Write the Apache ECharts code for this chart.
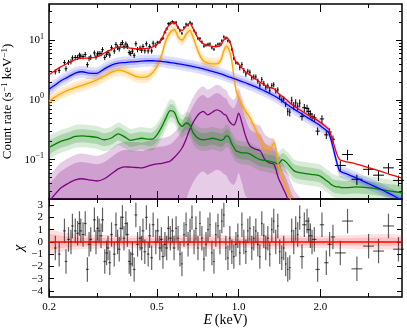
<!DOCTYPE html>
<html>
<head>
<meta charset="utf-8">
<script src="https://cdn.jsdelivr.net/npm/echarts@6.0.0/dist/echarts.min.js"></script>
<style>
html, body { margin: 0; padding: 0; background: #fff; }
#main { width: 407px; height: 335px; }
</style>
</head>
<body>
<div id="main"></div>
<script>
// ---- model curves (keV, counts s^-1 keV^-1)
var modelE = [0.2, 0.21, 0.22, 0.235, 0.25, 0.265, 0.28, 0.3, 0.32, 0.34,
    0.36, 0.38, 0.4, 0.42, 0.44, 0.46, 0.48, 0.5, 0.52, 0.54,
    0.56, 0.58, 0.6, 0.62, 0.64, 0.66, 0.68, 0.7, 0.72, 0.74,
    0.77, 0.8, 0.83, 0.86, 0.88, 0.9, 0.92, 0.94, 0.96, 0.98,
    1.0, 1.03, 1.06, 1.1, 1.15, 1.2, 1.25, 1.3, 1.35, 1.4,
    1.45, 1.5, 1.6, 1.7, 1.8, 1.9, 2.0, 2.1, 2.15, 2.2,
    2.3, 2.35, 2.4, 2.5, 2.7, 3.0, 3.3, 3.6, 4.0];
var totalModel = [2.63, 3.06, 3.53, 4.11, 4.69, 5.0, 4.99, 5.21, 6.06, 6.99,
    7.59, 7.52, 7.29, 7.09, 7.13, 7.25, 7.6, 8.4, 10.3, 14.9,
    18.5, 19.9, 15.6, 14.5, 17.0, 19.0, 15.4, 11.8, 9.7, 8.7,
    8.03, 7.85, 7.75, 8.17, 9.92, 11.12, 10.12, 7.94, 5.31, 4.19,
    3.96, 3.35, 2.96, 2.6, 2.25, 1.98, 1.75, 1.61, 1.53, 1.28,
    1.14, 1.0, 0.79, 0.66, 0.56, 0.49, 0.42, 0.355, 0.32, 0.24,
    0.125, 0.101, 0.096, 0.092, 0.085, 0.074, 0.065, 0.057, 0.049];
var blueModel = [1.5, 1.75, 2.05, 2.4, 2.8, 2.95, 2.8, 2.78, 3.3, 3.8,
    4.1, 4.2, 4.3, 4.35, 4.45, 4.5, 4.5, 4.45, 4.4, 4.3,
    4.2, 4.1, 4.0, 3.9, 3.8, 3.7, 3.6, 3.5, 3.4, 3.3,
    3.15, 3.0, 2.85, 2.72, 2.62, 2.52, 2.43, 2.35, 2.27, 2.2,
    2.12, 2.02, 1.93, 1.8, 1.66, 1.52, 1.4, 1.28, 1.17, 1.06,
    0.95, 0.85, 0.7, 0.59, 0.5, 0.43, 0.37, 0.31, 0.28, 0.2,
    0.09, 0.066, 0.062, 0.058, 0.05, 0.04, 0.033, 0.027, 0.021];
var orangeModel = [0.95, 1.1, 1.25, 1.45, 1.6, 1.75, 1.9, 2.15, 2.5, 2.9,
    3.15, 3.0, 2.7, 2.45, 2.38, 2.45, 2.8, 3.6, 5.5, 10,
    13.5, 15, 11, 10, 12.5, 14.5, 11, 7.5, 5.5, 4.5,
    4.1, 4.0, 4.0, 4.6, 6.5, 7.8, 7.0, 5.0, 2.5, 1.4,
    1.1, 0.8, 0.65, 0.5, 0.33, 0.22, 0.15, 0.15, 0.19, 0.08,
    0.05, 0.033, 0.015, 0.007];
var greenModel = [0.16, 0.18, 0.2, 0.22, 0.245, 0.25, 0.245, 0.235, 0.215, 0.23,
    0.27, 0.24, 0.21, 0.22, 0.228, 0.22, 0.22, 0.26, 0.35, 0.5,
    0.66, 0.62, 0.42, 0.36, 0.41, 0.38, 0.28, 0.24, 0.22, 0.215,
    0.22, 0.228, 0.22, 0.21, 0.22, 0.25, 0.24, 0.19, 0.16, 0.14,
    0.135, 0.13, 0.13, 0.125, 0.11, 0.1, 0.097, 0.094, 0.09, 0.085,
    0.1, 0.09, 0.065, 0.06, 0.058, 0.056, 0.053, 0.045, 0.042, 0.038,
    0.035, 0.035, 0.034, 0.034, 0.035, 0.034, 0.032, 0.03, 0.028];
var purpleModel = [0.02, 0.026, 0.033, 0.04, 0.046, 0.048, 0.046, 0.044, 0.048, 0.058,
    0.07, 0.076, 0.075, 0.074, 0.073, 0.077, 0.082, 0.085, 0.087, 0.09,
    0.095, 0.11, 0.13, 0.16, 0.22, 0.32, 0.42, 0.52, 0.6, 0.64,
    0.56, 0.62, 0.68, 0.64, 0.58, 0.55, 0.45, 0.4, 0.38, 0.45,
    0.6, 0.4, 0.25, 0.17, 0.15, 0.14, 0.1, 0.088, 0.083, 0.05,
    0.035, 0.025, 0.012, 0.006];

// band half widths in dex: [inner, outer]
var blueBand = [0.05, 0.1];
var orangeBand = [0.05, 0.1];
var greenBand = [0.11, 0.19];
var purpleBandUp = [0.28, 0.42];
var purpleBandDown = [1.0, 1.5];

// ---- spectrum data
var dataE = [0.211, 0.218, 0.228, 0.231, 0.236, 0.241, 0.244, 0.25, 0.255, 0.259,
    0.262, 0.267, 0.272, 0.277, 0.281, 0.285, 0.294, 0.298, 0.302, 0.306,
    0.311, 0.315, 0.321, 0.326, 0.33, 0.335, 0.34, 0.348, 0.353, 0.358,
    0.363, 0.368, 0.373, 0.378, 0.384, 0.389, 0.395, 0.4, 0.406, 0.412,
    0.418, 0.424, 0.433, 0.439, 0.444, 0.451, 0.457, 0.464, 0.47, 0.478,
    0.484, 0.495, 0.503, 0.512, 0.519, 0.526, 0.535, 0.543, 0.551, 0.56,
    0.57, 0.578, 0.588, 0.598, 0.608, 0.618, 0.629, 0.64, 0.651, 0.662,
    0.673, 0.685, 0.696, 0.708, 0.72, 0.732, 0.745, 0.758, 0.771, 0.784,
    0.797, 0.811, 0.824, 0.839, 0.853, 0.867, 0.882, 0.897, 0.913, 0.928,
    0.944, 0.96, 0.977, 0.993, 1.01, 1.028, 1.045, 1.063, 1.081, 1.1,
    1.118, 1.137, 1.157, 1.177, 1.197, 1.217, 1.238, 1.259, 1.281, 1.302,
    1.325, 1.347, 1.37, 1.394, 1.417, 1.442, 1.466, 1.491, 1.517, 1.543,
    1.569, 1.596, 1.623, 1.651, 1.679, 1.712, 1.746, 1.787, 1.812, 1.838,
    1.864, 1.901, 1.955, 2.028, 2.104, 2.164, 2.226, 2.37, 2.52, 2.728,
    3.012, 3.278, 3.566, 3.882];
var dataRate = [2.95, 3.1, 4.2, 3.32, 4.23, 4.35, 5.03, 5.1, 5.14, 5.6,
    5.38, 5.3, 5.75, 3.88, 4.9, 5.15, 6.08, 5.2, 5.88, 5.94,
    5.93, 6.9, 5.12, 5.78, 6.22, 5.6, 7.42, 6.53, 8.44, 7.55,
    7.13, 8.4, 9.06, 7.76, 8.6, 7.88, 6.18, 5.98, 6.5, 5.56,
    8.67, 6.95, 7.31, 6.76, 7.78, 6.6, 8.66, 6.57, 7.77, 6.57,
    8.84, 8.2, 9.17, 9.22, 10.3, 10.7, 13.5, 15.3, 18.7, 19.1,
    20.2, 19.3, 19.7, 16.3, 14.3, 13.0, 16.2, 18.4, 17.9, 19.7,
    18.6, 14.3, 13.1, 10.6, 10.6, 9.3, 7.9, 8.2, 8.5, 8.6,
    7.4, 7.0, 8.0, 8.5, 8.6, 9.7, 11.3, 10.7, 9.7, 9.4,
    7.0, 4.9, 4.15, 4.1, 3.46, 3.88, 3.1, 2.7, 3.0, 2.89,
    2.35, 2.42, 2.42, 2.06, 1.76, 2.19, 1.89, 1.63, 1.71, 1.44,
    1.73, 1.79, 1.42, 1.47, 1.13, 1.0, 1.04, 0.84, 0.64, 0.62,
    0.98, 0.8, 0.89, 0.78, 0.88, 0.53, 0.74, 0.72, 0.64, 0.58,
    0.52, 0.5, 0.3, 0.48, 0.26, 0.29, 0.22, 0.08, 0.122, 0.047,
    0.069, 0.055, 0.073, 0.045];
var residChi = [-0.5, -1.0, 0.9, -1.6, 0.2, 0, 1.3, 0.9, 0.7, 1.5,
    0.9, 0.6, 1.5, -2.25, -0.2, 0.2, 1.8, 0, 1.1, 0.9,
    0.5, 1.8, -1.6, -0.9, -0.5, -1.7, 0.6, -1.0, 1.4, 0,
    -0.6, 1.1, 2.0, 0.3, 1.5, 0.6, -1.6, -1.8, -1.0, -2.25,
    2.2, -0.2, 0.3, -0.5, 0.9, -0.8, 2.0, -1.0, 0.5, -1.3,
    1.4, 0, 0.9, -0.5, 0.2, -1.2, -0.2, -0.5, 1.1, 0.3,
    0.9, -0.5, 1.1, 0.3, -1.0, -1.8, 0.6, 1.4, -0.2, 0.9,
    2.0, 0, 1.1, -0.5, 1.5, 0.3, -1.4, -0.2, 1.0, 1.4,
    -0.9, -1.6, 0.6, 1.3, 0, 1.7, 2.2, -0.5, -1.3, 0.3,
    -0.8, -1.2, -0.2, 0.5, -0.9, 1.4, 0, -0.8, 0.9, 1.1,
    -0.5, 0.3, 0.9, -0.2, -1.2, 1.5, 0.5, -0.5, 0.3, -1.0,
    1.0, 1.7, 0, 1.3, -0.8, -1.3, -0.5, -1.8, -2.25, -2.1,
    0.9, 0, 1.1, 0.6, 2.0, -1.2, 1.4, 1.7, 1.0, 0.5,
    0, 0.2, -2.25, 1.4, -1.7, -0.2, 0.4, -0.9, 1.7, -2.2,
    -0.35, -0.75, 1.3, -0.6];

// fractional error and bin half width (dex) by energy range
var errEdges = [0.5, 1.0, 1.5, 2.3];
var errFrac = [0.1, 0.06, 0.1, 0.15, 0.2];
var binEdges = [0.58, 1.7, 2.3];
var binHalf = [0.005, 0.003, 0.008, 0.02];

// residual model band
var residBandE = [0.2, 0.22, 0.26, 0.35, 0.5, 0.8, 1.0, 1.3, 1.8, 2.5, 4.0];
var residModel = [0, 0, 0, 0, 0, 0, 0, 0, 0, 0, 0];
var residBandInner = [0.6, 0.5, 0.35, 0.3, 0.3, 0.35, 0.25, 0.35, 0.3, 0.3, 0.3];
var residBandOuter = [1.0, 0.8, 0.6, 0.55, 0.5, 0.6, 0.45, 0.6, 0.5, 0.55, 0.55];

// ticks
var xMajor = [0.2, 0.5, 1.0, 2.0];
var xMinor = [0.3, 0.4, 0.6, 0.7, 0.8, 0.9, 3.0];
var resTicks = [-4, -3, -2, -1, 0, 1, 2, 3];

var lg = Math.log10;
var font = 'Liberation Serif';
var xMin = lg(0.2), xMax = lg(4.0);
var yMin = lg(0.022), yMax = lg(40);
var rMin = -4.5, rMax = 3.5;

var yMajor = [-1, 0, 1];
var yMinor = [];
for (var d = -2; d <= 1; d++) {
    for (var k = 2; k <= 9; k++) {
        var t = d + lg(k);
        if (t > yMin && t < yMax) yMinor.push(t);
    }
}

function pick(e, edges, vals) {
    for (var i = 0; i < edges.length; i++) {
        if (e < edges[i]) return vals[i];
    }
    return vals[edges.length];
}
function at(a, i) { return typeof a === 'number' ? a : a[i]; }
function ident(v) { return v; }
function minus(n) { return n < 0 ? '\u2212' + (-n) : '' + n; }
function clamp(v, lo, hi) { return Math.max(lo, Math.min(hi, v)); }

function curve(xs, vals, color, ax, toY, w) {
    return {
        type: 'line', xAxisIndex: ax, yAxisIndex: ax, symbol: 'none', smooth: 0.3,
        silent: true, lineStyle: { color: color, width: w || 1.3 },
        data: vals.map(function(v, i) { return [lg(xs[i]), toY(v)]; })
    };
}

// shaded uncertainty band, drawn as one polygon through the axes
function band(xs, vals, toY, down, up, color, ax, lo, hi) {
    var upper = [], lower = [];
    for (var i = 0; i < vals.length; i++) {
        var x = lg(xs[i]), y = toY(vals[i]);
        upper.push([x, clamp(y + at(up, i), lo, hi)]);
        lower.push([x, clamp(y - at(down, i), lo, hi)]);
    }
    var poly = upper.concat(lower.reverse());
    return {
        type: 'custom', xAxisIndex: ax, yAxisIndex: ax, silent: true, clip: true,
        encode: { x: 0, y: 1 },
        data: poly,
        renderItem: function(params, api) {
            if (params.dataIndex !== 0) return null;
            var pts = poly.map(function(p) { return api.coord(p); });
            return { type: 'polygon', shape: { points: pts, smooth: 0.25 }, style: { fill: color } };
        }
    };
}

function crossRender(color, w) {
    return function(params, api) {
        var x = api.value(0), y = api.value(1);
        var lo = api.coord([x, api.value(2)]);
        var hi = api.coord([x, api.value(3)]);
        var l = api.coord([api.value(4), y]);
        var r = api.coord([api.value(5), y]);
        return {
            type: 'group',
            children: [
                { type: 'line', shape: { x1: lo[0], y1: lo[1], x2: hi[0], y2: hi[1] }, style: { stroke: color, lineWidth: w } },
                { type: 'line', shape: { x1: l[0], y1: l[1], x2: r[0], y2: r[1] }, style: { stroke: color, lineWidth: w } }
            ]
        };
    };
}

function xAx(grid, pos, vals, len, withLabel) {
    var a = {
        type: 'value', gridIndex: grid, position: pos, min: xMin, max: xMax,
        axisLine: { show: false, onZero: false }, splitLine: { show: false },
        axisTick: { show: true, inside: true, length: len, customValues: vals.map(lg),
            lineStyle: { color: '#000', width: 1 } },
        axisLabel: { show: false }
    };
    if (withLabel) {
        a.axisLabel = { show: true, customValues: vals.map(lg), margin: 5,
            fontFamily: font, fontSize: 11, color: '#000',
            formatter: function(v) { return Math.pow(10, v).toFixed(1); } };
        a.name = '{i|E}\u2009(keV)';
        a.nameLocation = 'middle';
        a.nameGap = 16;
        a.nameMoveOverlap = false;
        a.nameTextStyle = { fontFamily: font, fontSize: 14, color: '#000',
            rich: { i: { fontFamily: font, fontSize: 14, fontStyle: 'italic', color: '#000' } } };
    }
    return a;
}

function yAx(grid, pos, vals, len, min, max) {
    return {
        type: 'value', gridIndex: grid, position: pos, min: min, max: max,
        axisLine: { show: false, onZero: false }, splitLine: { show: false },
        axisTick: { show: true, inside: true, length: len, customValues: vals,
            lineStyle: { color: '#000', width: 1 } },
        axisLabel: { show: false }
    };
}

var yTopLeft = yAx(0, 'left', yMajor, 6, yMin, yMax);
yTopLeft.axisLabel = {
    show: true, customValues: yMajor, margin: 5, color: '#000',
    formatter: function(v) { return '{b|10}{s|' + minus(Math.round(v)) + '}'; },
    rich: {
        b: { fontFamily: font, fontSize: 11, color: '#000' },
        s: { fontFamily: font, fontSize: 8, color: '#000', padding: [0, 0, 7, 0] }
    }
};
yTopLeft.name = 'Count rate (s{s|\u22121} keV{s|\u22121})';
yTopLeft.nameLocation = 'middle';
yTopLeft.nameGap = 33;
yTopLeft.nameMoveOverlap = false;
yTopLeft.nameTextStyle = { fontFamily: font, fontSize: 13, color: '#000',
    rich: { s: { fontFamily: font, fontSize: 9, color: '#000', padding: [0, 0, 7, 0] } } };

var yResLeft = yAx(1, 'left', resTicks, 5, rMin, rMax);
yResLeft.axisLabel = {
    show: true, customValues: resTicks, margin: 6, fontFamily: font, fontSize: 11, color: '#000',
    formatter: function(v) { return minus(Math.round(v)); }
};
yResLeft.name = '\u03c7';
yResLeft.nameLocation = 'middle';
yResLeft.nameGap = 22;
yResLeft.nameMoveOverlap = false;
yResLeft.nameTextStyle = { fontFamily: font, fontSize: 15, fontStyle: 'italic', color: '#000' };

var series = [
    band(modelE, purpleModel, lg, purpleBandDown[1], purpleBandUp[1], 'rgba(128,0,128,0.2)', 0, yMin, yMax),
    band(modelE, purpleModel, lg, purpleBandDown[0], purpleBandUp[0], 'rgba(128,0,128,0.22)', 0, yMin, yMax),
    band(modelE, greenModel, lg, greenBand[1], greenBand[1], 'rgba(0,128,0,0.15)', 0, yMin, yMax),
    band(modelE, greenModel, lg, greenBand[0], greenBand[0], 'rgba(0,128,0,0.2)', 0, yMin, yMax),
    band(modelE, orangeModel, lg, orangeBand[1], orangeBand[1], 'rgba(255,165,0,0.18)', 0, yMin, yMax),
    band(modelE, orangeModel, lg, orangeBand[0], orangeBand[0], 'rgba(255,165,0,0.2)', 0, yMin, yMax),
    band(modelE, blueModel, lg, blueBand[1], blueBand[1], 'rgba(0,0,255,0.13)', 0, yMin, yMax),
    band(modelE, blueModel, lg, blueBand[0], blueBand[0], 'rgba(0,0,255,0.17)', 0, yMin, yMax),
    curve(modelE, purpleModel, '#800080', 0, lg),
    curve(modelE, greenModel, '#008000', 0, lg),
    curve(modelE, orangeModel, '#ffa500', 0, lg),
    curve(modelE, blueModel, '#0000ff', 0, lg),
    curve(modelE, totalModel, '#ff0000', 0, lg),
    {
        type: 'custom', xAxisIndex: 0, yAxisIndex: 0, silent: true,
        renderItem: crossRender('#000', 1),
        encode: { x: 0, y: 1 },
        data: dataE.map(function(e, i) {
            var r = dataRate[i], f = pick(e, errEdges, errFrac), h = pick(e, binEdges, binHalf);
            return [lg(e), lg(r), lg(r * (1 - f)), lg(r * (1 + f)), lg(e) - h, lg(e) + h];
        })
    },
    // residual panel
    band(residBandE, residModel, ident, residBandOuter, residBandOuter, 'rgba(255,0,0,0.12)', 4, rMin, rMax),
    band(residBandE, residModel, ident, residBandInner, residBandInner, 'rgba(255,0,0,0.14)', 4, rMin, rMax),
    {
        type: 'custom', xAxisIndex: 4, yAxisIndex: 4, silent: true,
        renderItem: crossRender('rgba(0,0,0,0.62)', 1.2),
        encode: { x: 0, y: 1 },
        data: dataE.map(function(e, i) {
            var c = residChi[i], h = pick(e, binEdges, binHalf);
            return [lg(e), c, c - 1, c + 1, lg(e) - h, lg(e) + h];
        })
    }
];
var zeroLine = curve(residBandE, residModel, '#ff0000', 4, ident, 1.5);
zeroLine.smooth = false;
series.push(zeroLine);

var chart = echarts.init(document.getElementById('main'), null, { renderer: 'canvas' });
chart.setOption({
    animation: false,
    backgroundColor: '#fff',
    grid: [
        { left: 49, right: 5, top: 4, height: 195, show: true, borderColor: '#000', borderWidth: 1.5,
          backgroundColor: 'transparent', outerBoundsMode: 'none', containLabel: false },
        { left: 49, right: 5, top: 199, height: 98, show: true, borderColor: '#000', borderWidth: 1.5,
          backgroundColor: 'transparent', outerBoundsMode: 'none', containLabel: false }
    ],
    xAxis: [
        xAx(0, 'bottom', xMajor, 8), xAx(0, 'bottom', xMinor, 4),
        xAx(0, 'top', xMajor, 8), xAx(0, 'top', xMinor, 4),
        xAx(1, 'bottom', xMajor, 8, true), xAx(1, 'bottom', xMinor, 4),
        xAx(1, 'top', xMajor, 8), xAx(1, 'top', xMinor, 4)
    ],
    yAxis: [
        yTopLeft, yAx(0, 'left', yMinor, 3, yMin, yMax),
        yAx(0, 'right', yMajor, 6, yMin, yMax), yAx(0, 'right', yMinor, 3, yMin, yMax),
        yResLeft, yAx(1, 'right', resTicks, 5, rMin, rMax)
    ],
    series: series
});
</script>
</body>
</html>
